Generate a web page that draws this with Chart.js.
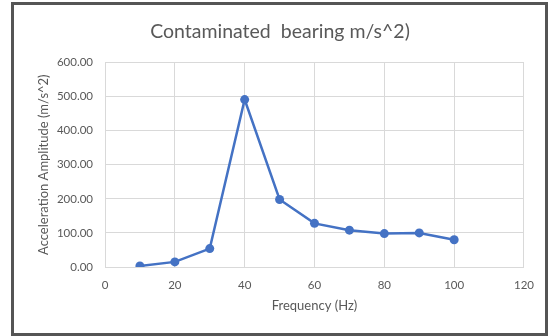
<!DOCTYPE html>
<html>
<head>
<meta charset="utf-8">
<script src="https://cdn.jsdelivr.net/npm/chart.js@4/dist/chart.umd.min.js"></script>
<style>
  html, body { margin: 0; padding: 0; background: #fff; }
  #frame {
    position: absolute;
    left: 11px;
    top: 2px;
    width: 531px;
    height: 328px;
    border: 3px solid #555;
    background: #fff;
  }
  #chart { display: block; }
</style>
</head>
<body>
<div id="frame"><canvas id="chart" width="531" height="328"></canvas></div>
<script>
const frequencies = [10, 20, 30, 40, 50, 60, 70, 80, 90, 100];
const amplitudes = [3, 15, 54, 491, 198, 128, 108, 98, 100, 80];

const titleText = 'Contaminated  bearing m/s^2)';
const xTitle = 'Frequency (Hz)';
const yTitle = 'Acceleration Amplitude (m/s^2)';

const gray = '#595959';
const gridColor = '#d9d9d9';
const lineColor = '#4472c4';
const fontFamily = 'Lato, "Open Sans", sans-serif';

const points = frequencies.map((f, i) => ({ x: f, y: amplitudes[i] }));

new Chart(document.getElementById('chart').getContext('2d'), {
  type: 'scatter',
  data: {
    datasets: [
      {
        data: points,
        showLine: true,
        borderColor: lineColor,
        backgroundColor: lineColor,
        borderWidth: 2.5,
        pointRadius: 4.5,
        pointBorderWidth: 0,
        tension: 0,
      },
    ],
  },
  options: {
    responsive: false,
    animation: false,
    layout: { padding: { left: 22, right: 21, top: 0, bottom: 19 } },
    plugins: {
      legend: { display: false },
      tooltip: { enabled: false },
      title: {
        display: true,
        text: titleText,
        color: gray,
        font: { family: fontFamily, size: 19.5, weight: 'normal' },
        padding: { top: 15, bottom: 19 },
      },
    },
    scales: {
      x: {
        type: 'linear',
        min: 0,
        max: 120,
        ticks: {
          stepSize: 20,
          color: gray,
          font: { family: fontFamily, size: 11.5 },
          padding: 11,
        },
        grid: { color: gridColor, drawTicks: false },
        border: { display: false },
        title: {
          display: true,
          text: xTitle,
          color: gray,
          font: { family: fontFamily, size: 13 },
          padding: { top: 0, bottom: 0 },
        },
        afterFit: (scale) => {
          scale.height = 47;
        },
      },
      y: {
        min: 0,
        max: 600,
        ticks: {
          stepSize: 100,
          color: gray,
          font: { family: fontFamily, size: 11.5 },
          padding: 12,
          callback: (v) => Number(v).toFixed(2),
        },
        grid: { color: gridColor, drawTicks: false },
        border: { display: false },
        title: {
          display: true,
          text: yTitle,
          color: gray,
          font: { family: fontFamily, size: 13 },
          padding: { top: 0, bottom: 0 },
        },
        afterFit: (scale) => {
          scale.width = 69;
        },
      },
    },
  },
});
</script>
</body>
</html>
